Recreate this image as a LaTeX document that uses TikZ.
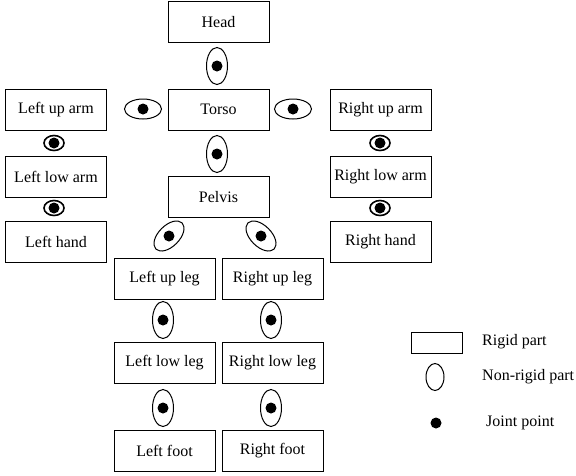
\documentclass[tikz,border=0pt]{standalone}
\usepackage{fontspec}
\setmainfont{Liberation Serif}
\usetikzlibrary{shapes.geometric}
\begin{document}
\begin{tikzpicture}[x=1pt,y=-1pt,
  part/.style={draw,line width=1pt,minimum width=101pt,minimum height=41pt,inner sep=0pt,font=\fontsize{16}{19}\selectfont},
  vjoint/.style={draw,ellipse,line width=1pt,minimum width=21pt,minimum height=37pt,inner sep=0pt},
  hjoint/.style={draw,ellipse,line width=1pt,minimum width=37pt,minimum height=20pt,inner sep=0pt},
  sjoint/.style={draw,ellipse,line width=1.6pt,minimum width=20pt,minimum height=15pt,inner sep=0pt},
  jdot/.style={circle,fill=black,minimum size=11pt,inner sep=0pt},
  legtext/.style={anchor=west,font=\fontsize{16}{19}\selectfont,inner sep=0pt}]
\useasboundingbox (0,0) rectangle (576,475);
% rigid parts
\node[part] (head) at (218.5,22) {Head};
\node[part] (torso) at (218.5,109.5) {Torso};
\node[part] (pelvis) at (218.5,197) {Pelvis};
\node[part] (lua) at (56,109.5) {Left up arm};
\node[part] (lla) at (56,177) {Left low arm};
\node[part] (lh) at (56,241.5) {Left hand};
\node[part] (rua) at (380.5,109.5) {Right up arm};
\node[part] (rla) at (380.5,177) {Right low arm};
\node[part] (rh) at (380.5,241.5) {Right hand};
\node[part] (lul) at (164.5,278.5) {Left up leg};
\node[part] (lll) at (164.5,363) {Left low leg};
\node[part] (lf) at (164.5,451) {Left foot};
\node[part] (rul) at (272.5,278.5) {Right up leg};
\node[part] (rll) at (272.5,363) {Right low leg};
\node[part] (rf) at (272.5,451) {Right foot};
% non-rigid parts
\node[vjoint] (j1) at (217,66) {};
\node[vjoint] (j2) at (217,154) {};
\node[hjoint] (j3) at (143,109) {};
\node[hjoint] (j4) at (293,109) {};
\node[sjoint] (j5) at (54,143) {};
\node[sjoint] (j6) at (54,208) {};
\node[sjoint] (j7) at (380,143) {};
\node[sjoint] (j8) at (380,208) {};
\node[vjoint,rotate=-45] (j9) at (169,236) {};
\node[vjoint,rotate=45] (j10) at (261,236) {};
\node[vjoint] (j11) at (163,320) {};
\node[vjoint] (j12) at (271,320) {};
\node[vjoint] (j13) at (163,408) {};
\node[vjoint] (j14) at (271,408) {};
% joint points
\foreach \j in {j1,j2,j3,j4,j5,j6,j7,j8,j9,j10,j11,j12,j13,j14}
  \node[jdot] at (\j.center) {};
% legend
\node[draw,line width=1pt,minimum width=51pt,minimum height=21pt,inner sep=0pt] (lrect) at (436.5,342.5) {};
\node[legtext] (lrt) at (482,342) {Rigid part};
\node[draw,ellipse,line width=1pt,minimum width=18pt,minimum height=27pt,inner sep=0pt] (lell) at (435,377) {};
\node[legtext] (let) at (482,377) {Non-rigid part};
\node[jdot] (ldot) at (436,423) {};
\node[legtext] (ldt) at (486,423) {Joint point};
\end{tikzpicture}
\end{document}
